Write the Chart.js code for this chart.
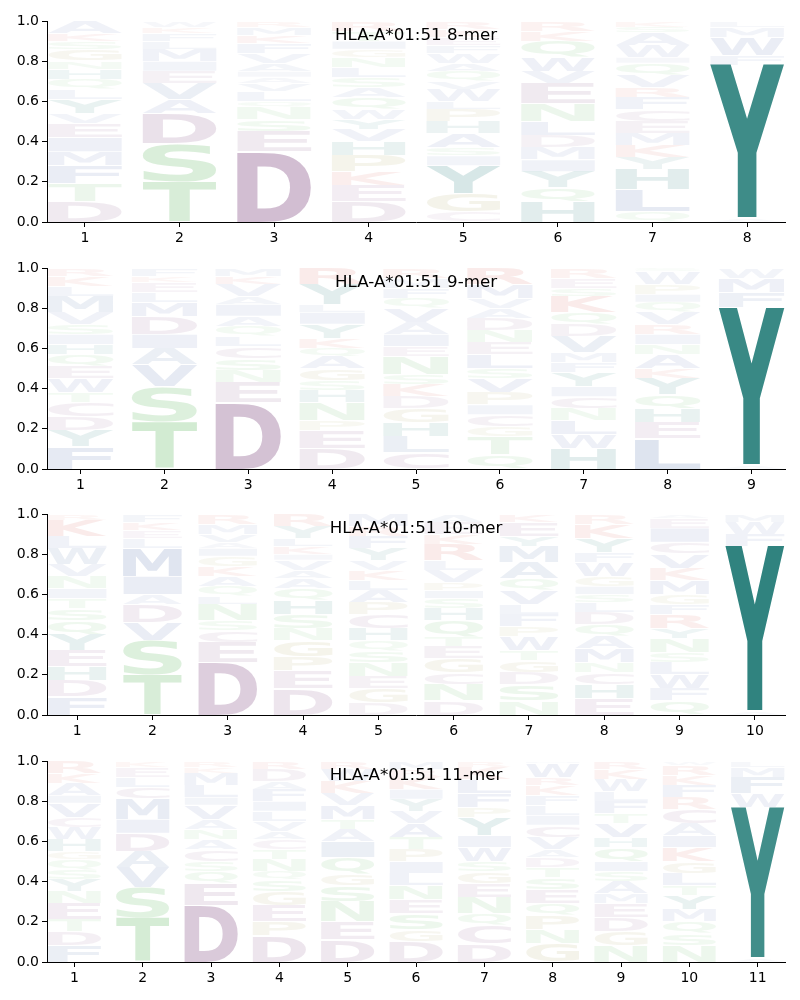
<!DOCTYPE html>
<html>
<head>
<meta charset="utf-8">
<script src="https://cdn.jsdelivr.net/npm/chart.js@4.4.1/dist/chart.umd.min.js"></script>
<style>
body { margin: 0; background: #fff; width: 800px; height: 1000px; position: relative; overflow: hidden; }
canvas { position: absolute; left: 0; }
</style>
</head>
<body>
<canvas id="c0" width="800" height="246" style="top:0px"></canvas>
<canvas id="c1" width="800" height="246" style="top:247px"></canvas>
<canvas id="c2" width="800" height="246" style="top:493px"></canvas>
<canvas id="c3" width="800" height="246" style="top:740px"></canvas>
<script>
// titres des 4 graphiques
const titles = ["HLA-A*01:51 8-mer", "HLA-A*01:51 9-mer", "HLA-A*01:51 10-mer", "HLA-A*01:51 11-mer"];
const yTicks = [0, 0.2, 0.4, 0.6, 0.8, 1.0];

// lettres de bas en haut pour chaque position + hauteur de chaque lettre
const letters8 = ["DTFMIEVYLQHNGSKA", "TSDAVEIMLFKW", "DESNQLVAIAVFKMR", "DEKPHVYWQASLNGITR",
  "CGYISAHPLWVQAWFEKR", "HQYIMDLNEVWQKR", "QLHYKMECFRVQIWASK", "AYFWML"];
const heights8 = [
  [.10,.09,.09,.07,.07,.07,.05,.07,.05,.05,.05,.04,.06,.04,.04,.06],
  [.20,.19,.15,.07,.08,.06,.05,.06,.04,.04,.03,.03],
  [.35,.10,.06,.06,.03,.05,.04,.03,.03,.04,.05,.05,.04,.04,.03],
  [.10,.08,.07,.08,.07,.06,.05,.05,.06,.05,.05,.05,.05,.04,.04,.05,.05],
  [.05,.09,.14,.05,.04,.07,.06,.06,.04,.06,.04,.05,.04,.05,.04,.04,.04,.04],
  [.10,.07,.08,.06,.06,.06,.07,.09,.10,.06,.07,.08,.05,.05],
  [.05,.11,.10,.06,.06,.06,.06,.06,.06,.05,.06,.06,.03,.06,.06,.03,.03],
  [.02,.76,.05,.09,.05,.03]
];

const letters9 = ["FYDCTWEQHISVMLKR", "TSVAIDMLEKF", "DENSCLQAIAVKM", "DEPNHSGAQKYILYR",
  "CLHGDKSNEIAVQFMR", "QTGCIPVSLENDAVMR", "HWLNCIYFMVDQKSER", "LEHQYKANIRVQIPWS", "AYFMW"];
const heights9 = [
  [.11,.08,.07,.07,.05,.07,.06,.06,.05,.05,.05,.06,.08,.05,.05,.04],
  [.235,.175,.11,.08,.07,.09,.07,.05,.05,.03,.04],
  [.33,.10,.06,.06,.06,.05,.05,.05,.06,.04,.06,.04,.04],
  [.10,.09,.05,.09,.06,.05,.06,.06,.04,.05,.07,.06,.04,.10,.08],
  [.08,.08,.07,.07,.06,.06,.05,.09,.05,.06,.06,.07,.05,.05,.05,.05],
  [.07,.09,.05,.06,.05,.06,.07,.05,.07,.06,.06,.06,.05,.05,.07,.08],
  [.10,.07,.07,.06,.06,.05,.07,.05,.05,.08,.06,.06,.08,.04,.05,.05],
  [.15,.08,.07,.07,.08,.05,.07,.05,.05,.05,.06,.05,.04,.05,.06,.02],
  [.02,.785,.075,.07,.05]
];

const letters10 = ["FDHEYQSTINVWLKR", "TSVDAIMLEKF", "DECSNLQAKGIAVMR", "DEPGNSHQAAVIKLYR",
  "DGENSQHCPALKVYFRM", "DNCGETQHSIPVLRKEA", "NSDGTWPFLVQAMYEK", "EHCNMAQDLSIGWFYKR",
  "QFWLSNYRFGMKVCIEA", "AYFWM"];
const heights10 = [
  [.09,.08,.07,.08,.08,.07,.06,.05,.05,.06,.06,.08,.06,.08,.03],
  [.20,.17,.09,.09,.05,.09,.14,.05,.04,.04,.04],
  [.26,.10,.06,.05,.08,.04,.05,.05,.05,.05,.04,.03,.04,.05,.05],
  [.13,.09,.07,.08,.06,.07,.07,.06,.05,.04,.05,.03,.04,.04,.06,.06],
  [.06,.07,.06,.07,.06,.05,.06,.07,.06,.06,.05,.05,.05,.06,.06,.05,.06],
  [.07,.08,.06,.07,.06,.05,.08,.06,.05,.04,.04,.06,.05,.08,.05,.06,.04],
  [.07,.08,.06,.06,.05,.07,.05,.06,.05,.07,.06,.08,.08,.05,.07,.04],
  [.08,.07,.06,.05,.07,.06,.06,.06,.05,.04,.04,.05,.07,.05,.07,.07,.05],
  [.07,.06,.07,.06,.05,.07,.05,.07,.05,.05,.07,.06,.07,.06,.07,.05,.02],
  [.02,.82,.06,.06,.04]
];

const letters11 = ["FDTENYSQGHWCVIAKR", "TSVADIMCLEK", "DEQSCANAVILMKR", "DPEGSQNTCAVLIFADR",
  "DENSGQIATMVKWR", "DGSENLIPTAVYIKRM", "DCQNEGSWIYPFLKR", "GNPQESTDAVCILFKRWM",
  "NGDEMASIQHVTFLWKR", "NSQMYTLGKIACRFKRW", "AYWFML"];
const heights11 = [
  [.08,.07,.06,.08,.06,.06,.05,.05,.04,.06,.06,.05,.07,.04,.06,.05,.06],
  [.22,.15,.10,.08,.09,.07,.10,.06,.05,.05,.03],
  [.28,.11,.06,.05,.06,.05,.05,.05,.07,.04,.06,.06,.03,.03],
  [.13,.07,.08,.07,.06,.04,.06,.05,.05,.04,.05,.05,.05,.06,.04,.06,.04],
  [.11,.09,.10,.08,.06,.08,.08,.06,.05,.07,.06,.06,.06,.04],
  [.10,.06,.08,.07,.07,.06,.06,.06,.06,.07,.06,.06,.05,.06,.04,.04],
  [.09,.09,.06,.08,.07,.06,.05,.07,.06,.09,.05,.07,.07,.06,.03],
  [.09,.07,.07,.06,.07,.06,.05,.05,.04,.06,.06,.05,.05,.05,.05,.04,.07,.01],
  [.08,.07,.07,.07,.05,.06,.05,.05,.07,.05,.07,.05,.06,.05,.06,.05,.04],
  [.08,.06,.06,.06,.07,.05,.06,.06,.07,.06,.06,.07,.06,.06,.05,.05,.02],
  [.02,.75,.07,.08,.05,.03]
];

const allLetters = [letters8, letters9, letters10, letters11];
const allHeights = [heights8, heights9, heights10, heights11];

// couleur de base par groupe d'acides aminés
const baseColors = {
  D: [138, 87, 138], E: [138, 87, 138], C: [138, 87, 138],
  S: [87, 179, 87], T: [87, 179, 87], N: [87, 179, 87], Q: [87, 179, 87],
  G: [160, 150, 70], P: [160, 150, 70],
  K: [210, 70, 60], R: [210, 70, 60],
  Y: [20, 115, 110], H: [20, 115, 110],
  A: [70, 100, 165], V: [70, 100, 165], L: [70, 100, 165], I: [70, 100, 165],
  M: [70, 100, 165], F: [70, 100, 165], W: [70, 100, 165]
};

function colorFor(ch, h) {
  const c = baseColors[ch] || [120, 120, 120];
  const a = Math.min(1, 0.02 + 1.05 * h);
  return `rgba(${c[0]},${c[1]},${c[2]},${a})`;
}

// dessine une lettre étirée dans le rectangle
function drawGlyph(ctx, ch, x, y, w, h, color) {
  if (h <= 0.5 || w <= 0) return;
  ctx.save();
  ctx.font = 'bold 200px "DejaVu Sans"';
  ctx.textAlign = 'left';
  ctx.textBaseline = 'alphabetic';
  const m = ctx.measureText(ch);
  const gl = m.actualBoundingBoxLeft, gr = m.actualBoundingBoxRight;
  const ga = m.actualBoundingBoxAscent, gd = m.actualBoundingBoxDescent;
  ctx.translate(x, y);
  ctx.scale(w / (gl + gr), h / (ga + gd));
  ctx.fillStyle = color;
  ctx.fillText(ch, gl, ga);
  ctx.restore();
}

function makeLogoPlugin(letters, heights, title) {
  return {
    id: 'logo',
    afterDatasetsDraw(chart) {
      const ctx = chart.ctx;
      const xs = chart.scales.x, ys = chart.scales.y;
      letters.forEach((str, i) => {
        let base = 0;
        const x0 = xs.getPixelForValue(i + 1 - 0.39);
        const x1 = xs.getPixelForValue(i + 1 + 0.39);
        [...str].forEach((ch, j) => {
          const h = heights[i][j];
          const yb = ys.getPixelForValue(base);
          const yt = ys.getPixelForValue(base + h);
          drawGlyph(ctx, ch, x0, yt + 0.5, x1 - x0, yb - yt - 1, colorFor(ch, h));
          base += h;
        });
      });
      // titre dans la zone du graphique
      const area = chart.chartArea;
      ctx.save();
      ctx.font = '16.7px "DejaVu Sans"';
      ctx.fillStyle = '#000';
      ctx.textAlign = 'center';
      ctx.textBaseline = 'middle';
      ctx.fillText(title, (area.left + area.right) / 2, area.top + 15);
      ctx.restore();
    }
  };
}

const tickFont = { family: 'DejaVu Sans', size: 14 };

allLetters.forEach((letters, k) => {
  const n = letters.length;
  const positions = letters.map((s, i) => i + 1);
  new Chart(document.getElementById('c' + k), {
    type: 'scatter',
    data: { datasets: [{ data: [], showLine: false }] },
    options: {
      responsive: false,
      animation: false,
      devicePixelRatio: 1,
      layout: { padding: { top: 21, right: 15, left: 0, bottom: 0 } },
      plugins: { legend: { display: false }, tooltip: { enabled: false } },
      scales: {
        x: {
          type: 'linear',
          min: 0.6,
          max: n + 0.4,
          afterBuildTicks: s => { s.ticks = positions.map(v => ({ value: v })); },
          afterFit: s => { s.height = 24; },
          ticks: { color: '#000', font: tickFont, padding: 3, maxRotation: 0, autoSkip: false,
                   callback: v => String(v) },
          grid: { drawOnChartArea: false, drawTicks: true, tickLength: 5, color: '#000', lineWidth: 1 },
          border: { display: true, color: '#000', width: 1 }
        },
        y: {
          min: 0,
          max: 1,
          afterBuildTicks: s => { s.ticks = yTicks.map(v => ({ value: v })); },
          afterFit: s => { s.width = 47; },
          ticks: { color: '#000', font: tickFont, padding: 3, callback: v => v.toFixed(1) },
          grid: { drawOnChartArea: false, drawTicks: true, tickLength: 5, color: '#000', lineWidth: 1 },
          border: { display: true, color: '#000', width: 1 }
        }
      }
    },
    plugins: [makeLogoPlugin(letters, allHeights[k], titles[k])]
  });
});
</script>
</body>
</html>
